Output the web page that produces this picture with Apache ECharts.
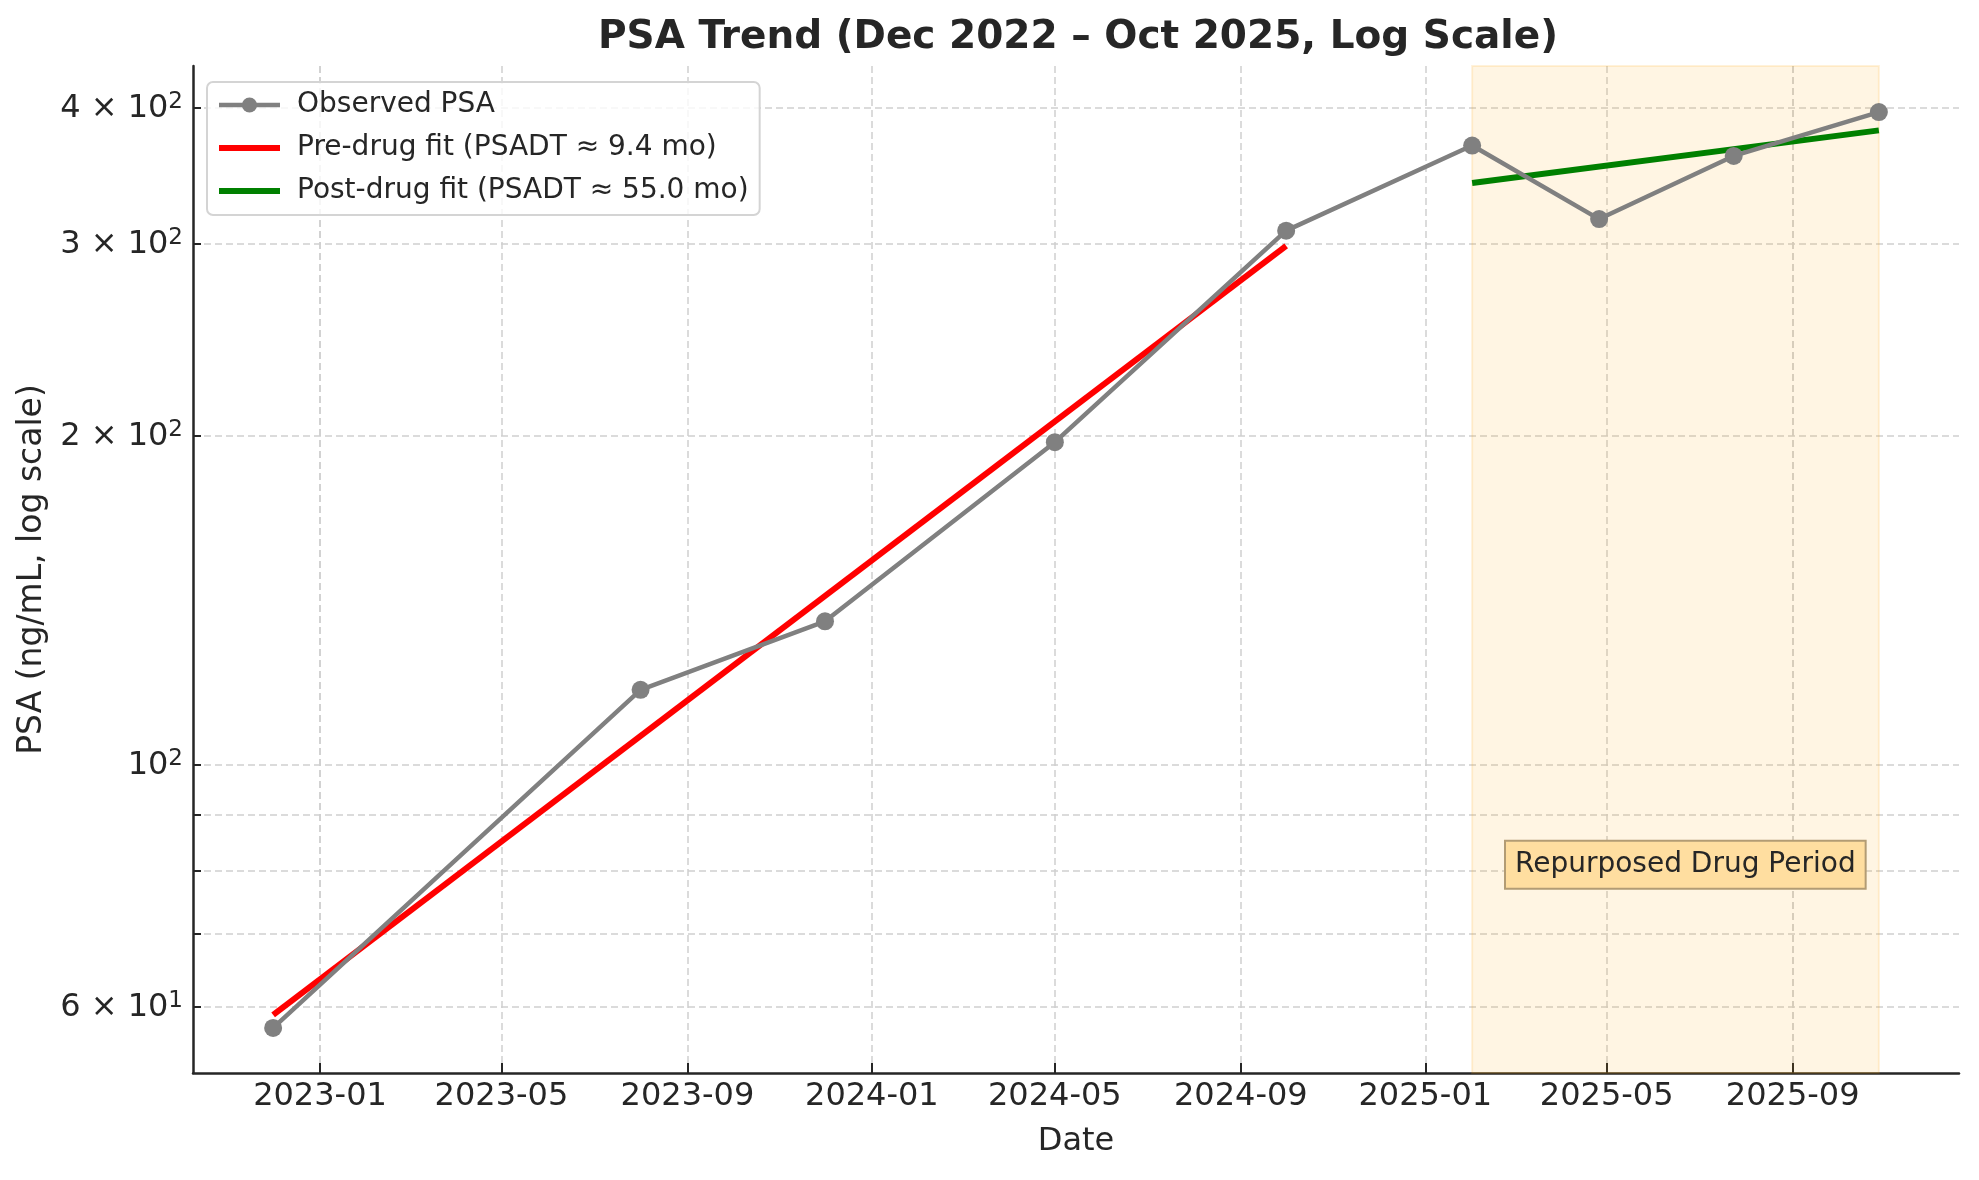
<!DOCTYPE html>
<html><head><meta charset="utf-8">
<script src="https://cdn.jsdelivr.net/npm/echarts@6/dist/echarts.min.js"></script>
<style>html,body{margin:0;padding:0;background:#fff}#c{width:1979px;height:1180px}</style>
</head><body><div id="c"></div>
<script>
const dates = ['2022-12-01','2023-08-01','2023-12-01','2024-05-01','2024-10-01','2025-02-01','2025-04-26','2025-07-24','2025-10-28'];
const psa = [57.4, 117.1, 135.3, 197.4, 308.4, 369, 316, 361, 396];
const preFitDates = ['2022-12-01','2024-10-01'];
const preFitValues = [59.0, 298.7];
const postFitDates = ['2025-02-01','2025-10-28'];
const postFitValues = [341, 381];
const drugPeriod = ['2025-02-01','2025-10-28'];
const xTicks = ['2023-01-01','2023-05-01','2023-09-01','2024-01-01','2024-05-01','2024-09-01','2025-01-01','2025-05-01','2025-09-01'];
const yTickValues = [60,70,80,90,100,200,300,400];
const yLabelValues = [60,100,200,300,400];
const yLabelMantissa = ['6 × ','','2 × ','3 × ','4 × '];
const yLabelExponent = ['1','2','2','2','2'];
const annotationText = 'Repurposed Drug Period';
const annotationAt = ['2025-06-22', 81];
const names = ['Observed PSA','Pre-drug fit (PSADT ≈ 9.4 mo)','Post-drug fit (PSADT ≈ 55.0 mo)'];

const FONT = 'DejaVu Sans';
const TXT = '#262626';
const chart = echarts.init(document.getElementById('c'), null, {renderer:'canvas'});
chart.setOption({
  animation:false,
  backgroundColor:'#fff',
  title:{text:'PSA Trend (Dec 2022 – Oct 2025, Log Scale)', left:593, top:13,
    textStyle:{fontFamily:FONT, fontSize:39, fontWeight:'bold', color:TXT}},
  grid:{left:193, right:20, top:66, bottom:107, containLabel:false},
  legend:{orient:'vertical', left:207, top:82, padding:[9,11,10,9], itemGap:15, itemWidth:61, itemHeight:19,
    backgroundColor:'rgba(255,255,255,0.8)', borderColor:'#d4d4d4', borderWidth:2, borderRadius:6,
    textStyle:{fontFamily:FONT, fontSize:28, color:TXT, padding:[0,0,0,12]},
    data:[
      {name:names[0], lineStyle:{width:4.5}},
      {name:names[1], lineStyle:{width:6}, itemStyle:{color:'rgba(0,0,0,0)', borderWidth:0, opacity:0}},
      {name:names[2], lineStyle:{width:6}, itemStyle:{color:'rgba(0,0,0,0)', borderWidth:0, opacity:0}}
    ]},
  xAxis:{type:'time', min:'2022-10-09', max:'2025-12-20',
    name:'Date', nameLocation:'middle', nameGap:53,
    nameTextStyle:{fontFamily:FONT, fontSize:32, color:TXT},
    axisLine:{show:true, onZero:false, lineStyle:{color:TXT, width:2.5}},
    axisTick:{show:true, inside:true, length:10, customValues:xTicks, lineStyle:{color:TXT, width:2}},
    axisLabel:{customValues:xTicks, formatter:'{yyyy}-{MM}', fontFamily:FONT, fontSize:32, color:TXT, margin:8, hideOverlap:false},
    splitLine:{show:true, lineStyle:{color:'#d0d0d0', width:1.5, type:[7,4]}}},
  yAxis:{type:'log', logBase:10, min:52.2, max:436.4,
    name:'PSA (ng/mL, log scale)', nameLocation:'middle', nameGap:141, nameRotate:90,
    nameTextStyle:{fontFamily:FONT, fontSize:33, color:TXT},
    axisLine:{show:true, lineStyle:{color:TXT, width:2.5}},
    axisTick:{show:true, inside:true, length:8, customValues:yTickValues, lineStyle:{color:TXT, width:2}},
    axisLabel:{customValues:yLabelValues, color:TXT, margin:10,
      rich:{
        b:{fontFamily:FONT, fontSize:32, color:TXT, lineHeight:34, verticalAlign:'bottom'},
        s:{fontFamily:FONT, fontSize:23, color:TXT, lineHeight:23, verticalAlign:'top'}
      },
      formatter:function(v){ for(let i=0;i<yLabelValues.length;i++){ if(Math.abs(v-yLabelValues[i])<0.5) return '{b|'+yLabelMantissa[i]+'10}{s|'+yLabelExponent[i]+'}'; } return ''; }},
    splitLine:{show:true, lineStyle:{color:'#d0d0d0', width:1.5, type:[7,4]}}},
  series:[
    {name:names[0], type:'line', z:4, data:dates.map((d,i)=>[d,psa[i]]),
      symbol:'circle', symbolSize:18, showSymbol:true,
      lineStyle:{color:'#808080', width:4.5}, itemStyle:{color:'#808080'}},
    {name:names[1], type:'line', z:3, data:preFitDates.map((d,i)=>[d,preFitValues[i]]),
      symbol:'none', lineStyle:{color:'#ff0000', width:6}, itemStyle:{color:'#ff0000'}},
    {name:names[2], type:'line', z:3, data:postFitDates.map((d,i)=>[d,postFitValues[i]]),
      symbol:'none', lineStyle:{color:'#008000', width:6}, itemStyle:{color:'#008000'},
      markArea:{silent:true, itemStyle:{color:'rgba(255,165,0,0.11)', borderColor:'rgba(255,165,0,0.14)', borderWidth:2},
        data:[[{xAxis:drugPeriod[0]},{xAxis:drugPeriod[1]}]]},
      markPoint:{silent:true, symbol:'rect', symbolSize:1, itemStyle:{color:'rgba(0,0,0,0)'},
        label:{show:true, position:'inside', formatter:annotationText, fontFamily:FONT, fontSize:28, color:TXT,
          backgroundColor:'#ffdea0', borderColor:'#b39c74', borderWidth:2, padding:[9,9,9,9]},
        data:[{coord:annotationAt}]}}
  ]
});
</script></body></html>
